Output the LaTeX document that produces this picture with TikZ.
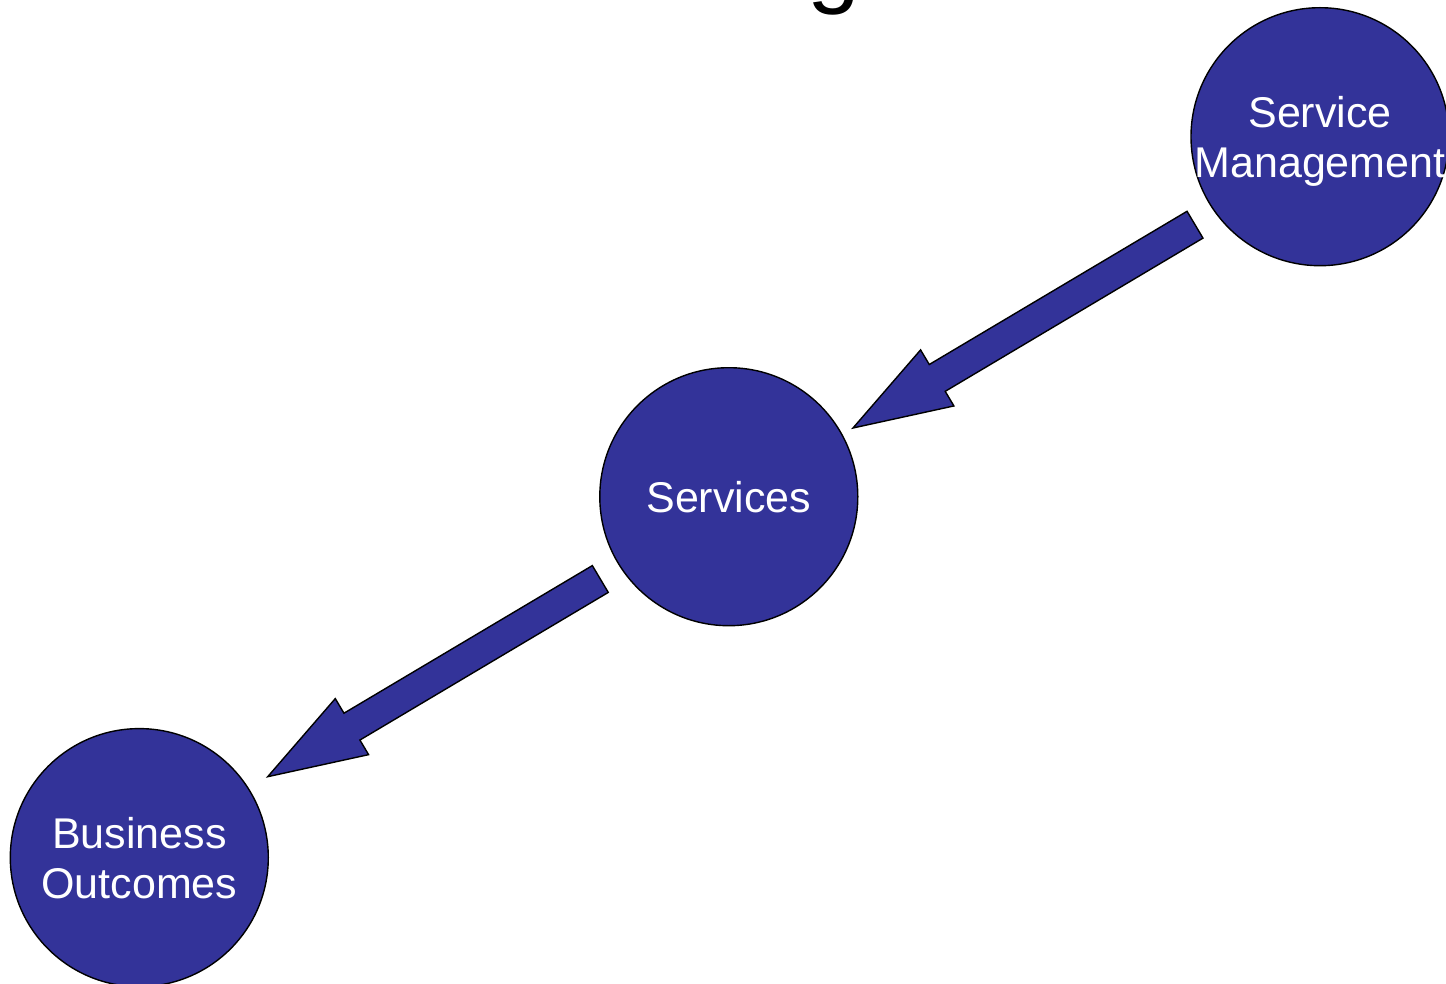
\documentclass[tikz,border=0pt]{standalone}
\usepackage{fontspec}
\setmainfont{Liberation Sans}
\usetikzlibrary{calc}
\definecolor{discblue}{HTML}{333399}
\tikzset{
  disc/.style={circle, draw=black, line width=1.4pt, fill=discblue,
    minimum size=258pt, inner sep=0pt},
  disctext/.style={text=white, align=center, inner sep=0pt,
    font=\fontsize{43}{50}\selectfont, text depth=0pt},
  blockarrow/.style={draw=black, line width=1.4pt, fill=discblue, line join=miter},
  heading/.style={font=\fontsize{95}{110}\selectfont, inner sep=0pt, anchor=base},
}
% block arrow from base point #1 to tip #2
\newcommand\blkarrow[2]{%
  \coordinate (hb) at ($(#2)!98pt!(#1)$);
  \draw[blockarrow]
    ($(#1)!15.6pt!90:(#2)$) -- ($(hb)!15.6pt!90:(#2)$) -- ($(hb)!32.6pt!90:(#2)$)
    -- (#2)
    -- ($(hb)!32.6pt!-90:(#2)$) -- ($(hb)!15.6pt!-90:(#2)$) -- ($(#1)!15.6pt!-90:(#2)$)
    -- cycle;
}
\begin{document}
\begin{tikzpicture}[x=1pt, y=-1pt]
  \useasboundingbox (0,0) rectangle (1446,984);
  \clip (0,0) rectangle (1446,984);
  \fill[white] (0,0) rectangle (1446,984);

  % heading, mostly above the page
  \node[heading] (title) at (834,-4.5) {g};

  % the three stages
  \node[disc] (sm) at (1320,136.7) {};
  \node[disc] (sv) at (728.8,496.7) {};
  \node[disc] (bo) at (139.3,857.6) {};
  \node[disctext] (smtext) at (sm.center) {Service\\Management};
  \node[disctext] (svtext) at (sv.center) {Services};
  \node[disctext] (botext) at (bo.center) {Business\\Outcomes};

  % arrow ends just outside the discs
  \coordinate (a1) at ($(sm)+(-125,88)$);
  \coordinate (t1) at ($(sv)+(124.2,-68.7)$);
  \coordinate (a2) at ($(sv)+(-128.5,82.3)$);
  \coordinate (t2) at ($(bo)+(128.4,-80.9)$);

  \blkarrow{a1}{t1}
  \blkarrow{a2}{t2}
\end{tikzpicture}
\end{document}
